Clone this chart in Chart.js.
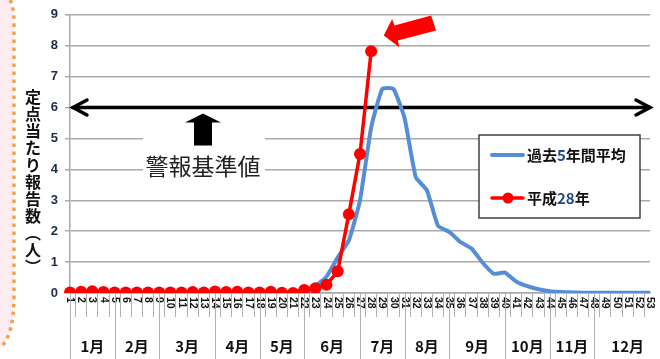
<!DOCTYPE html>
<html>
<head>
<meta charset="utf-8">
<script src="https://cdn.jsdelivr.net/npm/chart.js"></script>
<style>
  html, body { margin: 0; padding: 0; background: #fff; }
  #wrap { width: 660px; height: 359px; }
</style>
</head>
<body>
<div id="wrap"><canvas id="teitenChart" width="660" height="359"></canvas></div>
<script>
// week numbers along the bottom (1-53)
const weekLabels = ['1', '2', '3', '4', '5', '6', '7', '8', '9', '10', '11', '12', '13', '14', '15', '16', '17', '18',
    '19', '20', '21', '22', '23', '24', '25', '26', '27', '28', '29', '30', '31', '32', '33', '34', '35', '36',
    '37', '38', '39', '40', '41', '42', '43', '44', '45', '46', '47', '48', '49', '50', '51', '52', '53'];

// month row under the week numbers, and how many weeks each month covers
const monthLabels = ['1月', '2月', '3月', '4月', '5月', '6月', '7月', '8月', '9月', '10月', '11月', '12月'];
const monthWeeks = [4, 4, 5, 4, 4, 5, 4, 4, 5, 4, 4, 6];

const avgLabel = '過去5年間平均';
const thisYearLabel = '平成28年';

// past 5 years average, per week
const avgValues = [0.02, 0.02, 0.02, 0.02, 0.02, 0.01, 0.01, 0.01, 0.01, 0.01, 0.01, 0.01, 0.01, 0.01, 0.01,
    0.01, 0.01, 0.02, 0.02, 0.03, 0.05, 0.1, 0.22, 0.53, 1.15, 1.7, 3.0, 5.35, 6.6, 6.6, 5.65, 3.75, 3.32,
    2.17, 1.98, 1.65, 1.44, 0.98, 0.62, 0.66, 0.37, 0.22, 0.12, 0.06, 0.03, 0.02, 0.01, 0.01, 0.01, 0.01,
    0.01, 0.01, 0.01];

// this year (only up to week 28)
const thisYearValues = [0.02, 0.04, 0.06, 0.03, 0.02, 0.02, 0.02, 0.02, 0.02, 0.02, 0.02, 0.03, 0.02, 0.05,
    0.03, 0.04, 0.02, 0.02, 0.04, 0.01, 0.0, 0.1, 0.15, 0.27, 0.7, 2.55, 4.5, 7.82];

const yMax = 9;
const alertLevel = 6;
const alertText = '警報基準値';
const yTitleChars = ['定', '点', '当', 'た', 'り', '報', '告', '数', '︵', '人', '︶'];

const jpFont = '"Noto Sans CJK JP", "Noto Sans", sans-serif';

// text where the digits come out in blue like the original
function drawMixed(c, text, x, y) {
    for (const ch of text) {
        c.fillStyle = /[0-9]/.test(ch) ? '#24488c' : '#111';
        c.fillText(ch, x, y);
        x += c.measureText(ch).width;
    }
}

const decoPlugin = {
    id: 'deco',
    beforeDraw(chart) {
        const c = chart.ctx;
        c.save();
        // pink panel peeking in on the left
        c.beginPath();
        c.moveTo(0, 0);
        c.lineTo(10, 0);
        c.quadraticCurveTo(14, 6, 14, 24);
        c.lineTo(14, 295);
        c.quadraticCurveTo(14, 336, 0, 348);
        c.closePath();
        c.fillStyle = '#fdecf1';
        c.fill();
        c.beginPath();
        c.moveTo(10, 0);
        c.quadraticCurveTo(14, 6, 14, 24);
        c.lineTo(14, 295);
        c.quadraticCurveTo(14, 336, 0, 348);
        c.setLineDash([3.5, 4.5]);
        c.lineWidth = 3.5;
        c.strokeStyle = '#f5a04b';
        c.stroke();
        c.setLineDash([]);

        // vertical axis title, one character at a time
        c.font = 'bold 16px ' + jpFont;
        c.fillStyle = '#111';
        c.textAlign = 'center';
        c.textBaseline = 'middle';
        yTitleChars.forEach((ch, i) => {
            c.fillText(ch, 33, 97 + i * 17);
        });
        c.restore();
    },
    beforeDatasetsDraw(chart) {
        const c = chart.ctx;
        const area = chart.chartArea;
        const y6 = chart.scales.y.getPixelForValue(alertLevel);
        c.save();

        // white patch behind the label
        c.fillStyle = '#fff';
        c.fillRect(area.left + 73, y6 + 20, 122, 53);

        // up arrow
        const ax = area.left + 133;
        c.beginPath();
        c.moveTo(ax, y6 + 6);
        c.lineTo(ax + 18, y6 + 15);
        c.lineTo(ax + 9, y6 + 15);
        c.lineTo(ax + 9, y6 + 38);
        c.lineTo(ax - 9, y6 + 38);
        c.lineTo(ax - 9, y6 + 15);
        c.lineTo(ax - 18, y6 + 15);
        c.closePath();
        c.fillStyle = '#000';
        c.fill();

        c.font = '23px ' + jpFont;
        c.textAlign = 'center';
        c.textBaseline = 'middle';
        c.fillStyle = '#222';
        c.fillText(alertText, ax, y6 + 59);

        // double headed arrow at the alert level
        c.strokeStyle = '#000';
        c.lineWidth = 3.5;
        c.lineCap = 'round';
        c.lineJoin = 'miter';
        const l = area.left + 3, r = area.right;
        c.beginPath();
        c.moveTo(l, y6);
        c.lineTo(r, y6);
        c.stroke();
        c.beginPath();
        c.moveTo(l + 14, y6 - 7.5);
        c.lineTo(l, y6);
        c.lineTo(l + 14, y6 + 7.5);
        c.moveTo(r - 14, y6 - 7.5);
        c.lineTo(r, y6);
        c.lineTo(r - 14, y6 + 7.5);
        c.stroke();
        c.restore();
    },
    afterDraw(chart) {
        const c = chart.ctx;
        const x = chart.scales.x;
        const area = chart.chartArea;
        c.save();

        // week numbers, turned clockwise
        c.font = 'bold 10.5px "Liberation Sans", Arial, sans-serif';
        c.fillStyle = '#111';
        c.textAlign = 'left';
        c.textBaseline = 'middle';
        weekLabels.forEach((lab, i) => {
            const px = x.getPixelForValue(i);
            c.save();
            c.translate(px, area.bottom + 4);
            c.rotate(Math.PI / 2);
            c.fillText(lab, 0, 0);
            c.restore();
        });

        // month separators and month names
        const step = x.getPixelForValue(1) - x.getPixelForValue(0);
        c.strokeStyle = '#b0b0b0';
        c.lineWidth = 1;
        c.font = 'bold 15px ' + jpFont;
        c.textAlign = 'center';
        let start = 0;
        c.beginPath();
        c.moveTo(Math.round(area.left) + 0.5, area.bottom);
        c.lineTo(Math.round(area.left) + 0.5, 359);
        c.stroke();
        monthLabels.forEach((m, i) => {
            const x0 = area.left + start * step;
            const x1 = area.left + (start + monthWeeks[i]) * step;
            c.beginPath();
            c.moveTo(Math.round(x1) + 0.5, area.bottom);
            c.lineTo(Math.round(x1) + 0.5, 359);
            c.stroke();
            c.fillStyle = '#111';
            c.fillText(m, (x0 + x1) / 2, 346);
            start += monthWeeks[i];
        });

        // legend box
        c.fillStyle = '#fff';
        c.fillRect(479, 135, 161, 83);
        c.strokeStyle = '#404040';
        c.lineWidth = 1.5;
        c.strokeRect(479, 135, 161, 83);
        c.lineCap = 'round';
        c.strokeStyle = chart.data.datasets[1].borderColor;
        c.lineWidth = 4;
        c.beginPath();
        c.moveTo(492, 155);
        c.lineTo(523, 155);
        c.stroke();
        c.strokeStyle = chart.data.datasets[0].borderColor;
        c.lineWidth = 3.5;
        c.beginPath();
        c.moveTo(492, 198);
        c.lineTo(523, 198);
        c.stroke();
        c.fillStyle = chart.data.datasets[0].pointBackgroundColor;
        c.beginPath();
        c.arc(508, 198, 5.5, 0, Math.PI * 2);
        c.fill();
        c.font = 'bold 15px ' + jpFont;
        c.textAlign = 'left';
        c.textBaseline = 'middle';
        drawMixed(c, avgLabel, 527, 155);
        drawMixed(c, thisYearLabel, 527, 198);

        // red arrow pointing at the latest week
        const meta = chart.getDatasetMeta(0);
        const p = meta.data[meta.data.length - 1];
        if (p) {
            c.beginPath();
            c.moveTo(p.x + 12.6, p.y - 15.7);
            c.lineTo(p.x + 21, p.y - 32.4);
            c.lineTo(p.x + 23.3, p.y - 25.7);
            c.lineTo(p.x + 60, p.y - 35.7);
            c.lineTo(p.x + 65, p.y - 20.7);
            c.lineTo(p.x + 26.6, p.y - 10.7);
            c.lineTo(p.x + 28.3, p.y - 4);
            c.closePath();
            c.fillStyle = '#ff0000';
            c.fill();
        }
        c.restore();
    }
};

const canvasElement = document.getElementById('teitenChart');
const ctx = canvasElement.getContext('2d');

const teitenChart = new Chart(ctx, {
    type: 'line',
    data: {
        labels: weekLabels,
        datasets: [
            {
                label: thisYearLabel,
                data: thisYearValues,
                borderColor: '#ff0000',
                backgroundColor: '#ff0000',
                pointBackgroundColor: '#ff0000',
                pointBorderWidth: 0,
                pointRadius: 6,
                borderWidth: 3.5,
                tension: 0,
                fill: false,
                order: 0
            },
            {
                label: avgLabel,
                data: avgValues,
                borderColor: 'rgb(85, 142, 213)',
                backgroundColor: 'rgb(85, 142, 213)',
                pointRadius: 0,
                borderWidth: 4,
                tension: 0.15,
                fill: false,
                order: 1
            }
        ]
    },
    options: {
        responsive: false,
        animation: false,
        devicePixelRatio: 1,
        layout: { padding: { top: 14, right: 10, left: 0, bottom: 0 } },
        plugins: {
            legend: { display: false },
            tooltip: { enabled: false }
        },
        scales: {
            x: {
                grid: { offset: true, drawOnChartArea: false, drawTicks: true, tickLength: 24, color: '#b0b0b0', lineWidth: 1 },
                border: { color: '#aaaaaa', width: 1.5 },
                ticks: { display: false },
                afterFit(scale) { scale.height = 66; }
            },
            y: {
                min: 0,
                max: yMax,
                ticks: {
                    stepSize: 1,
                    padding: 7,
                    color: '#1c2a48',
                    font: { family: '"Liberation Sans", Arial, sans-serif', size: 13, weight: 'bold' }
                },
                grid: { color: '#aaaaaa', lineWidth: 1.5, tickLength: 5 },
                border: { color: '#aaaaaa', width: 1.5 },
                afterFit(scale) { scale.width = 70; }
            }
        }
    },
    plugins: [decoPlugin]
});
</script>
</body>
</html>
